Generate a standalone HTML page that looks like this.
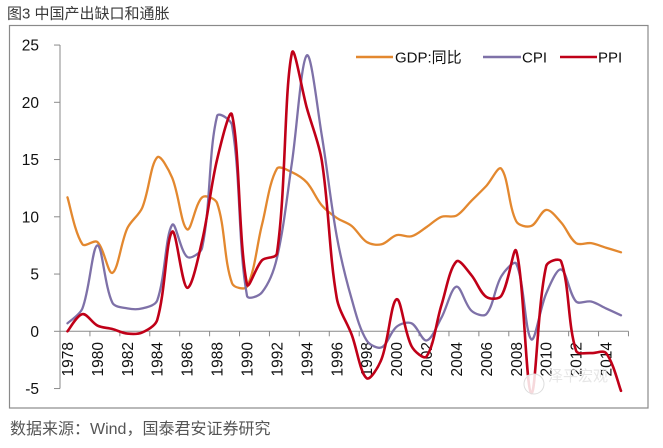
<!DOCTYPE html>
<html><head><meta charset="utf-8">
<style>
html,body{margin:0;padding:0;background:#fff;}
body{width:663px;height:448px;overflow:hidden;position:relative;}
svg{position:absolute;left:0;top:0;}
text{font-family:"Liberation Sans","Noto Sans CJK SC",sans-serif;}
</style></head>
<body>
<svg id="s" width="663" height="448" viewBox="0 0 663 448" xmlns="http://www.w3.org/2000/svg">
<text x="7" y="18.5" font-size="15" fill="#3a3a3a">图3 中国产出缺口和通胀</text>
<rect x="9.5" y="25.5" width="638.5" height="382.5" fill="#fff" stroke="#8a8a8a" stroke-width="1.2"/>
<g id="axes" stroke="#8a8a8a" stroke-width="1" fill="none"></g>
<g id="labels" font-size="15.5" fill="#111"></g>
<g id="lines" fill="none" stroke-linejoin="round" stroke-linecap="round"></g>
<ellipse cx="534" cy="386" rx="16" ry="12" fill="#fff" opacity="0.85"/>
<circle cx="534" cy="384" r="10" fill="none" stroke="#ddd" stroke-width="1"/>
<g font-size="15" fill="#111">
<line x1="356" y1="57" x2="393" y2="57" stroke="#E3882F" stroke-width="2.4"/>
<text x="395" y="62.5">GDP:同比</text>
<line x1="483" y1="57" x2="521" y2="57" stroke="#7E71A8" stroke-width="2.4"/>
<text x="522" y="62.5">CPI</text>
<line x1="560" y1="57" x2="597" y2="57" stroke="#C00018" stroke-width="2.4"/>
<text x="598" y="62.5">PPI</text>
</g>
<text x="548" y="381" font-size="15" fill="#e6e6e6">泽平宏观</text>
<text x="10" y="434" font-size="16" fill="#555">数据来源：Wind，国泰君安证券研究</text>
</svg>
<script>
(function(){
var NS="http://www.w3.org/2000/svg";
function el(t,a,p){var e=document.createElementNS(NS,t);for(var k in a)e.setAttribute(k,a[k]);p.appendChild(e);return e;}
var dx=14.96, x0=60;
function X(i){return x0+dx*(i+0.5);}
function Y(v){return 331.3-11.45*v;}
var ax=document.getElementById('axes'), lb=document.getElementById('labels'), ln=document.getElementById('lines');
el('line',{x1:60,y1:Y(25),x2:60,y2:Y(-5)},ax);
[25,20,15,10,5,0,-5].forEach(function(v){
  var y=Y(v);
  el('line',{x1:54,y1:y,x2:60,y2:y},ax);
  var t=el('text',{x:39,y:y+5.5,'text-anchor':'end'},lb);t.textContent=String(v);
});
var xend=x0+dx*38;
el('line',{x1:60,y1:Y(0),x2:xend,y2:Y(0)},ax);
for(var k=0;k<=19;k++){var xx=x0+2*dx*k;el('line',{x1:xx,y1:Y(0),x2:xx,y2:Y(0)+5},ax);}
for(var yr=1978;yr<=2014;yr+=2){
  var i=yr-1978, cx=X(i)+5.5;
  var t=el('text',{transform:'translate('+cx.toFixed(1)+',342) rotate(-90)','text-anchor':'end'},lb);t.textContent=yr;
}
var gdp=[11.7,7.6,7.8,5.1,9.0,10.8,15.2,13.4,8.9,11.7,11.2,4.2,3.9,9.3,14.2,13.9,13.0,11.0,9.9,9.2,7.8,7.6,8.4,8.3,9.1,10.0,10.1,11.4,12.7,14.2,9.6,9.2,10.6,9.5,7.7,7.7,7.3,6.9];
var cpi=[0.7,2.0,7.5,2.5,2.0,2.0,2.7,9.3,6.5,7.3,18.8,18.0,3.1,3.4,6.4,14.7,24.1,17.1,8.3,2.8,-0.8,-1.4,0.4,0.7,-0.8,1.2,3.9,1.8,1.5,4.8,5.9,-0.7,3.3,5.4,2.6,2.6,2.0,1.4];
var ppi=[0.0,1.5,0.5,0.2,-0.2,-0.1,1.0,8.7,3.8,7.9,15.0,18.9,4.1,6.2,6.8,24.3,19.5,14.9,2.9,-0.3,-4.1,-2.4,2.8,-1.3,-2.2,2.3,6.1,4.9,3.0,3.1,7.0,-5.4,5.7,6.1,-1.7,-1.9,-1.9,-5.2];
function path(d){
  var p=d.map(function(v,i){return [X(i),Y(v)];});
  var n=p.length;
  function dist(i){var a=p[i],b=p[i+1];return Math.sqrt((b[0]-a[0])*(b[0]-a[0])+(b[1]-a[1])*(b[1]-a[1]));}
  var s='M'+p[0][0].toFixed(2)+','+p[0][1].toFixed(2);
  for(var i=0;i<n-1;i++){
    var b=p[i],c=p[i+1];
    var c1x,c1y,c2x,c2y;
    if(i===0){c1x=b[0]+(c[0]-b[0])/6;c1y=b[1]+(c[1]-b[1])/6;}
    else{var a=p[i-1];var d0=dist(i-1),d1=dist(i);var f=(1/3)*d1/(d0+d1);
      c1x=b[0]+(c[0]-a[0])*f;c1y=b[1]+(c[1]-a[1])*f;}
    if(i===n-2){c2x=c[0]-(c[0]-b[0])/6;c2y=c[1]-(c[1]-b[1])/6;}
    else{var e=p[i+2];var d1b=dist(i),d2=dist(i+1);var g=(1/3)*d1b/(d1b+d2);
      c2x=c[0]-(e[0]-b[0])*g;c2y=c[1]-(e[1]-b[1])*g;}
    s+=' C'+c1x.toFixed(2)+','+c1y.toFixed(2)+' '+c2x.toFixed(2)+','+c2y.toFixed(2)+' '+c[0].toFixed(2)+','+c[1].toFixed(2);
  }
  return s;
}
el('path',{d:path(gdp),stroke:'#E3882F','stroke-width':2.3},ln);
el('path',{d:path(cpi),stroke:'#7E71A8','stroke-width':2.3},ln);
el('path',{d:path(ppi),stroke:'#C00018','stroke-width':2.6},ln);
})();
</script>
</body></html>
